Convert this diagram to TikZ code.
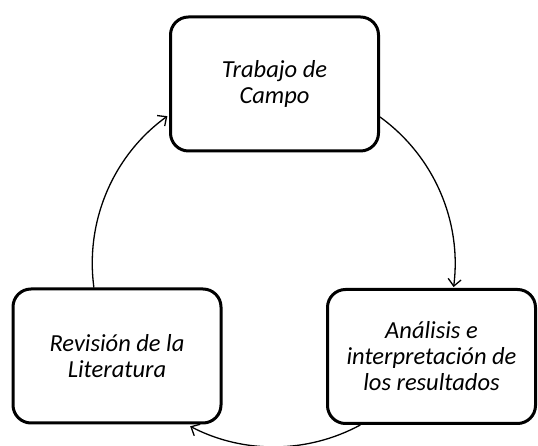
\documentclass[tikz,border=0pt]{standalone}
\usepackage{fontspec}
\setmainfont{Carlito}
\usetikzlibrary{arrows.meta}
\begin{document}
\begin{tikzpicture}[x=1pt,y=1pt,
  stagebox/.style={draw=black, line width=3pt, rounded corners=18pt, fill=white,
    minimum width=208pt, minimum height=134pt, align=center,
    font=\fontsize{24.5pt}{26pt}\selectfont\itshape, inner sep=2pt},
  cyclearrow/.style={draw=black, line width=1.3pt,
    -{Straight Barb[length=7pt,width=13pt,line width=1.3pt]}}]
\useasboundingbox (0,0) rectangle (538,446);
\node[stagebox] (T) at (274.5,362) {Trabajo de\\Campo};
\node[stagebox] (L) at (117,90) {Revisión de la\\Literatura};
\node[stagebox] (R) at (431.5,89.5) {Análisis e\\interpretación de\\los resultados};
% connectors along the cycle circle
\draw[cyclearrow] ([xshift=-23.1pt]L.north) arc[start angle=187.7, end angle=125.9, radius=181.5pt];
\draw[cyclearrow] ([yshift=-33pt]T.east) arc[start angle=54.1, end angle=-7.3, radius=181.5pt];
\draw[cyclearrow] ([xshift=-71.2pt]R.south) arc[start angle=-61.6, end angle=-117.5, radius=181.5pt];
\end{tikzpicture}
\end{document}
